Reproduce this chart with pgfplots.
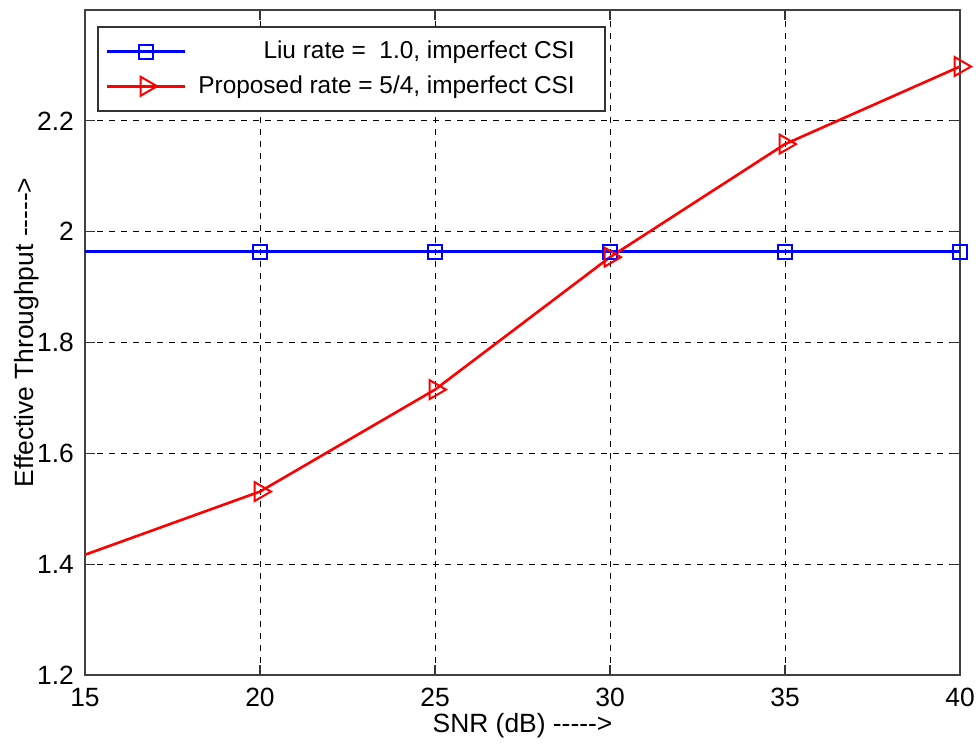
\documentclass[border=0pt]{standalone}
\usepackage{fontspec}
\setmainfont{Liberation Sans}
\usepackage{pgfplots}
\pgfplotsset{compat=1.18}
\begin{document}
\fontsize{13.2}{15}\selectfont
\begin{tikzpicture}
\begin{axis}[
  scale only axis,
  width=437.5pt, height=332.5pt,
  xmin=15, xmax=40, ymin=1.2, ymax=2.4,
  xtick={15,20,...,40},
  ytick={1.2,1.4,1.6,1.8,2.0,2.2},
  yticklabels={1.2,1.4,1.6,1.8,2,2.2},
  /pgf/number format/assume math mode=true,
  tick align=inside,
  major tick length=5pt,
  tick style={black!80, line width=0.6pt},
  axis line style={black!75, line width=0.9pt},
  grid=major,
  grid style={black, dashed, line width=0.5pt},
  xticklabel style={yshift=-2pt},
  yticklabel style={xshift=-1pt},
  xlabel={SNR (dB) -{}-{}-{}-{}->},
  ylabel={Effective Throughput -{}-{}-{}-{}->},
  xlabel style={yshift=6pt},
  ylabel style={yshift=-10pt, xshift=5pt},
  clip=false,
  legend cell align=right,
  legend style={at={(0,1)}, anchor=north west, xshift=6pt, yshift=-8pt,
    draw=black!80, line width=0.8pt, inner xsep=4pt, inner ysep=5pt,
    row sep=2.5pt, font=\fontsize{12.2}{14}\selectfont},
  legend image code/.code={
    \draw[#1, mark indices={2}] plot coordinates {(0pt,0pt) (19.5pt,0pt) (39pt,0pt)};
  },
]
\addplot[blue, line width=1.3pt, mark=square, mark size=3.5pt,
  mark options={solid, line width=1pt}, mark indices={2,3,4,5,6}]
  coordinates {(15,1.964) (20,1.964) (25,1.964) (30,1.964) (35,1.964) (40,1.964)};
\addlegendentry{Liu rate = \ 1.0, imperfect CSI\kern9pt}
\addplot[red, line width=1.3pt, mark=triangle, mark size=5.5pt,
  mark options={solid, line width=1pt, rotate=-90}, mark indices={2,3,4,5,6}]
  coordinates {(15,1.417) (20,1.531) (25,1.715) (30,1.954) (35,2.158) (40,2.298)};
\addlegendentry{\kern4pt Proposed rate = 5/4, imperfect CSI\kern9pt}
\end{axis}
\pgfresetboundingbox
\path[use as bounding box] ([shift={(-42.5pt,-34pt)}]current axis.south west) rectangle ([shift={(9pt,5pt)}]current axis.north east);
\end{tikzpicture}
\end{document}
